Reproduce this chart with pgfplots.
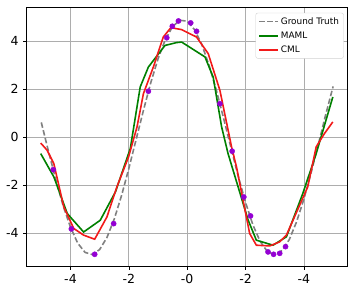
\documentclass[border=0pt]{standalone}
\usepackage{fontspec}
\setmainfont{DejaVu Sans}
\usepackage{pgfplots}
\pgfplotsset{compat=1.18}
\definecolor{gtgray}{HTML}{808080}
\definecolor{mamlgreen}{HTML}{008000}
\definecolor{cmlred}{HTML}{F21A1A}
\definecolor{dotviolet}{HTML}{9400D3}
\begin{document}
\begin{tikzpicture}
\begin{axis}[
  name=ax,
  scale only axis,
  width=321pt, height=259pt,
  xmin=-5.5, xmax=5.5, ymin=-5.38, ymax=5.42,
  xtick={-4,-2,0,2,4}, xticklabels={-4,-2,-0,-2,-4},
  ytick={-4,-2,0,2,4}, yticklabels={-4,-2,0,2,4},
  tick style={black, line width=0.6pt},
  tick align=outside, major tick length=3.5pt,
  xtick pos=bottom, ytick pos=left,
  grid=major, grid style={color=black!32, line width=0.7pt},
  axis line style={line width=0.8pt},
  ticklabel style={font=\fontsize{12.5}{14}\selectfont},
  xticklabel style={yshift=-1pt},
  yticklabel style={xshift=-1pt},
  legend style={at={(1,1)}, xshift=-4pt, yshift=-5.5pt, anchor=north east, draw=black!18, rounded corners=2pt, fill=white, font=\fontsize{8.9}{10}\selectfont, row sep=2pt, inner xsep=2.5pt, inner ysep=2.5pt},
  legend cell align=left,
  legend image code/.code={\draw[#1, line width=1.6pt] (0pt,0pt) -- (19pt,0pt);},
]
\addplot[gtgray, line width=1.6pt, dash pattern=on 5.5pt off 2.5pt] coordinates {
(-5,0.62) (-4.75,-0.60) (-4.5,-1.78) (-4.25,-2.86) (-4,-3.75) (-3.75,-4.42) (-3.5,-4.80) (-3.25,-4.89) (-3,-4.68) (-2.75,-4.18) (-2.5,-3.41) (-2.25,-2.43) (-2,-1.30) (-1.75,-0.09) (-1.5,1.12) (-1.25,2.27) (-1,3.27) (-0.75,4.07) (-0.5,4.62) (-0.25,4.88) (0,4.84) (0.25,4.49) (0.5,3.87) (0.75,3.00) (1,1.96) (1.25,0.78) (1.5,-0.44) (1.75,-1.63) (2,-2.72) (2.25,-3.65) (2.5,-4.34) (2.75,-4.77) (3,-4.90) (3.25,-4.72) (3.5,-4.26) (3.75,-3.52) (4,-2.57) (4.25,-1.46) (4.5,-0.26) (4.75,0.96) (5,2.12)
};
\addlegendentry{Ground Truth}
\addplot[mamlgreen, line width=1.6pt] coordinates {
(-5.02,-0.68) (-4.57,-1.65) (-4.11,-3.18) (-3.55,-3.95) (-2.98,-3.46) (-2.46,-2.28) (-1.95,-0.47) (-1.61,2.10) (-1.33,2.93) (-0.76,3.83) (-0.36,3.95) (-0.19,3.97) (0.61,3.35) (0.89,2.51) (1.18,0.43) (1.40,-0.68) (2.09,-3.46) (2.37,-4.29) (2.94,-4.50) (3.40,-4.15) (3.96,-2.35) (4.42,-0.68) (4.99,1.68)
};
\addlegendentry{MAML}
\addplot[cmlred, line width=1.6pt] coordinates {
(-5.02,-0.24) (-4.80,-0.54) (-4.57,-1.10) (-4.23,-2.90) (-3.89,-3.80) (-3.55,-4.08) (-3.17,-4.25) (-2.75,-3.32) (-2.41,-2.07) (-2.01,-0.82) (-1.72,0.43) (-1.50,1.82) (-1.16,2.93) (-0.82,4.18) (-0.56,4.57) (-0.19,4.49) (0.32,4.18) (0.72,3.49) (1.12,1.96) (1.52,-0.40) (1.69,-1.24) (2.14,-4.01) (2.37,-4.50) (2.83,-4.53) (3.17,-4.36) (3.40,-4.08) (4.13,-2.07) (4.42,-0.40) (4.70,0.15) (4.99,0.64)
};
\addlegendentry{CML}
\addplot[only marks, mark=*, mark size=2.6pt, dotviolet, mark options={draw=dotviolet, fill=dotviolet}, forget plot] coordinates {
(-4.59,-1.35) (-3.97,-3.82) (-3.17,-4.88) (-2.52,-3.60) (-1.33,1.92) (-0.70,4.15) (-0.51,4.63) (-0.30,4.85) (0.12,4.77) (0.32,4.42) (1.12,1.40) (1.54,-0.58) (1.94,-2.49) (2.17,-3.28) (2.77,-4.78) (2.96,-4.88) (3.17,-4.84) (3.37,-4.56)
};
\end{axis}
\pgfresetboundingbox
\path[use as bounding box] ([xshift=-26.7pt,yshift=-28.5pt]ax.south west) rectangle ([xshift=10.3pt,yshift=7.3pt]ax.north east);
\end{tikzpicture}
\end{document}
